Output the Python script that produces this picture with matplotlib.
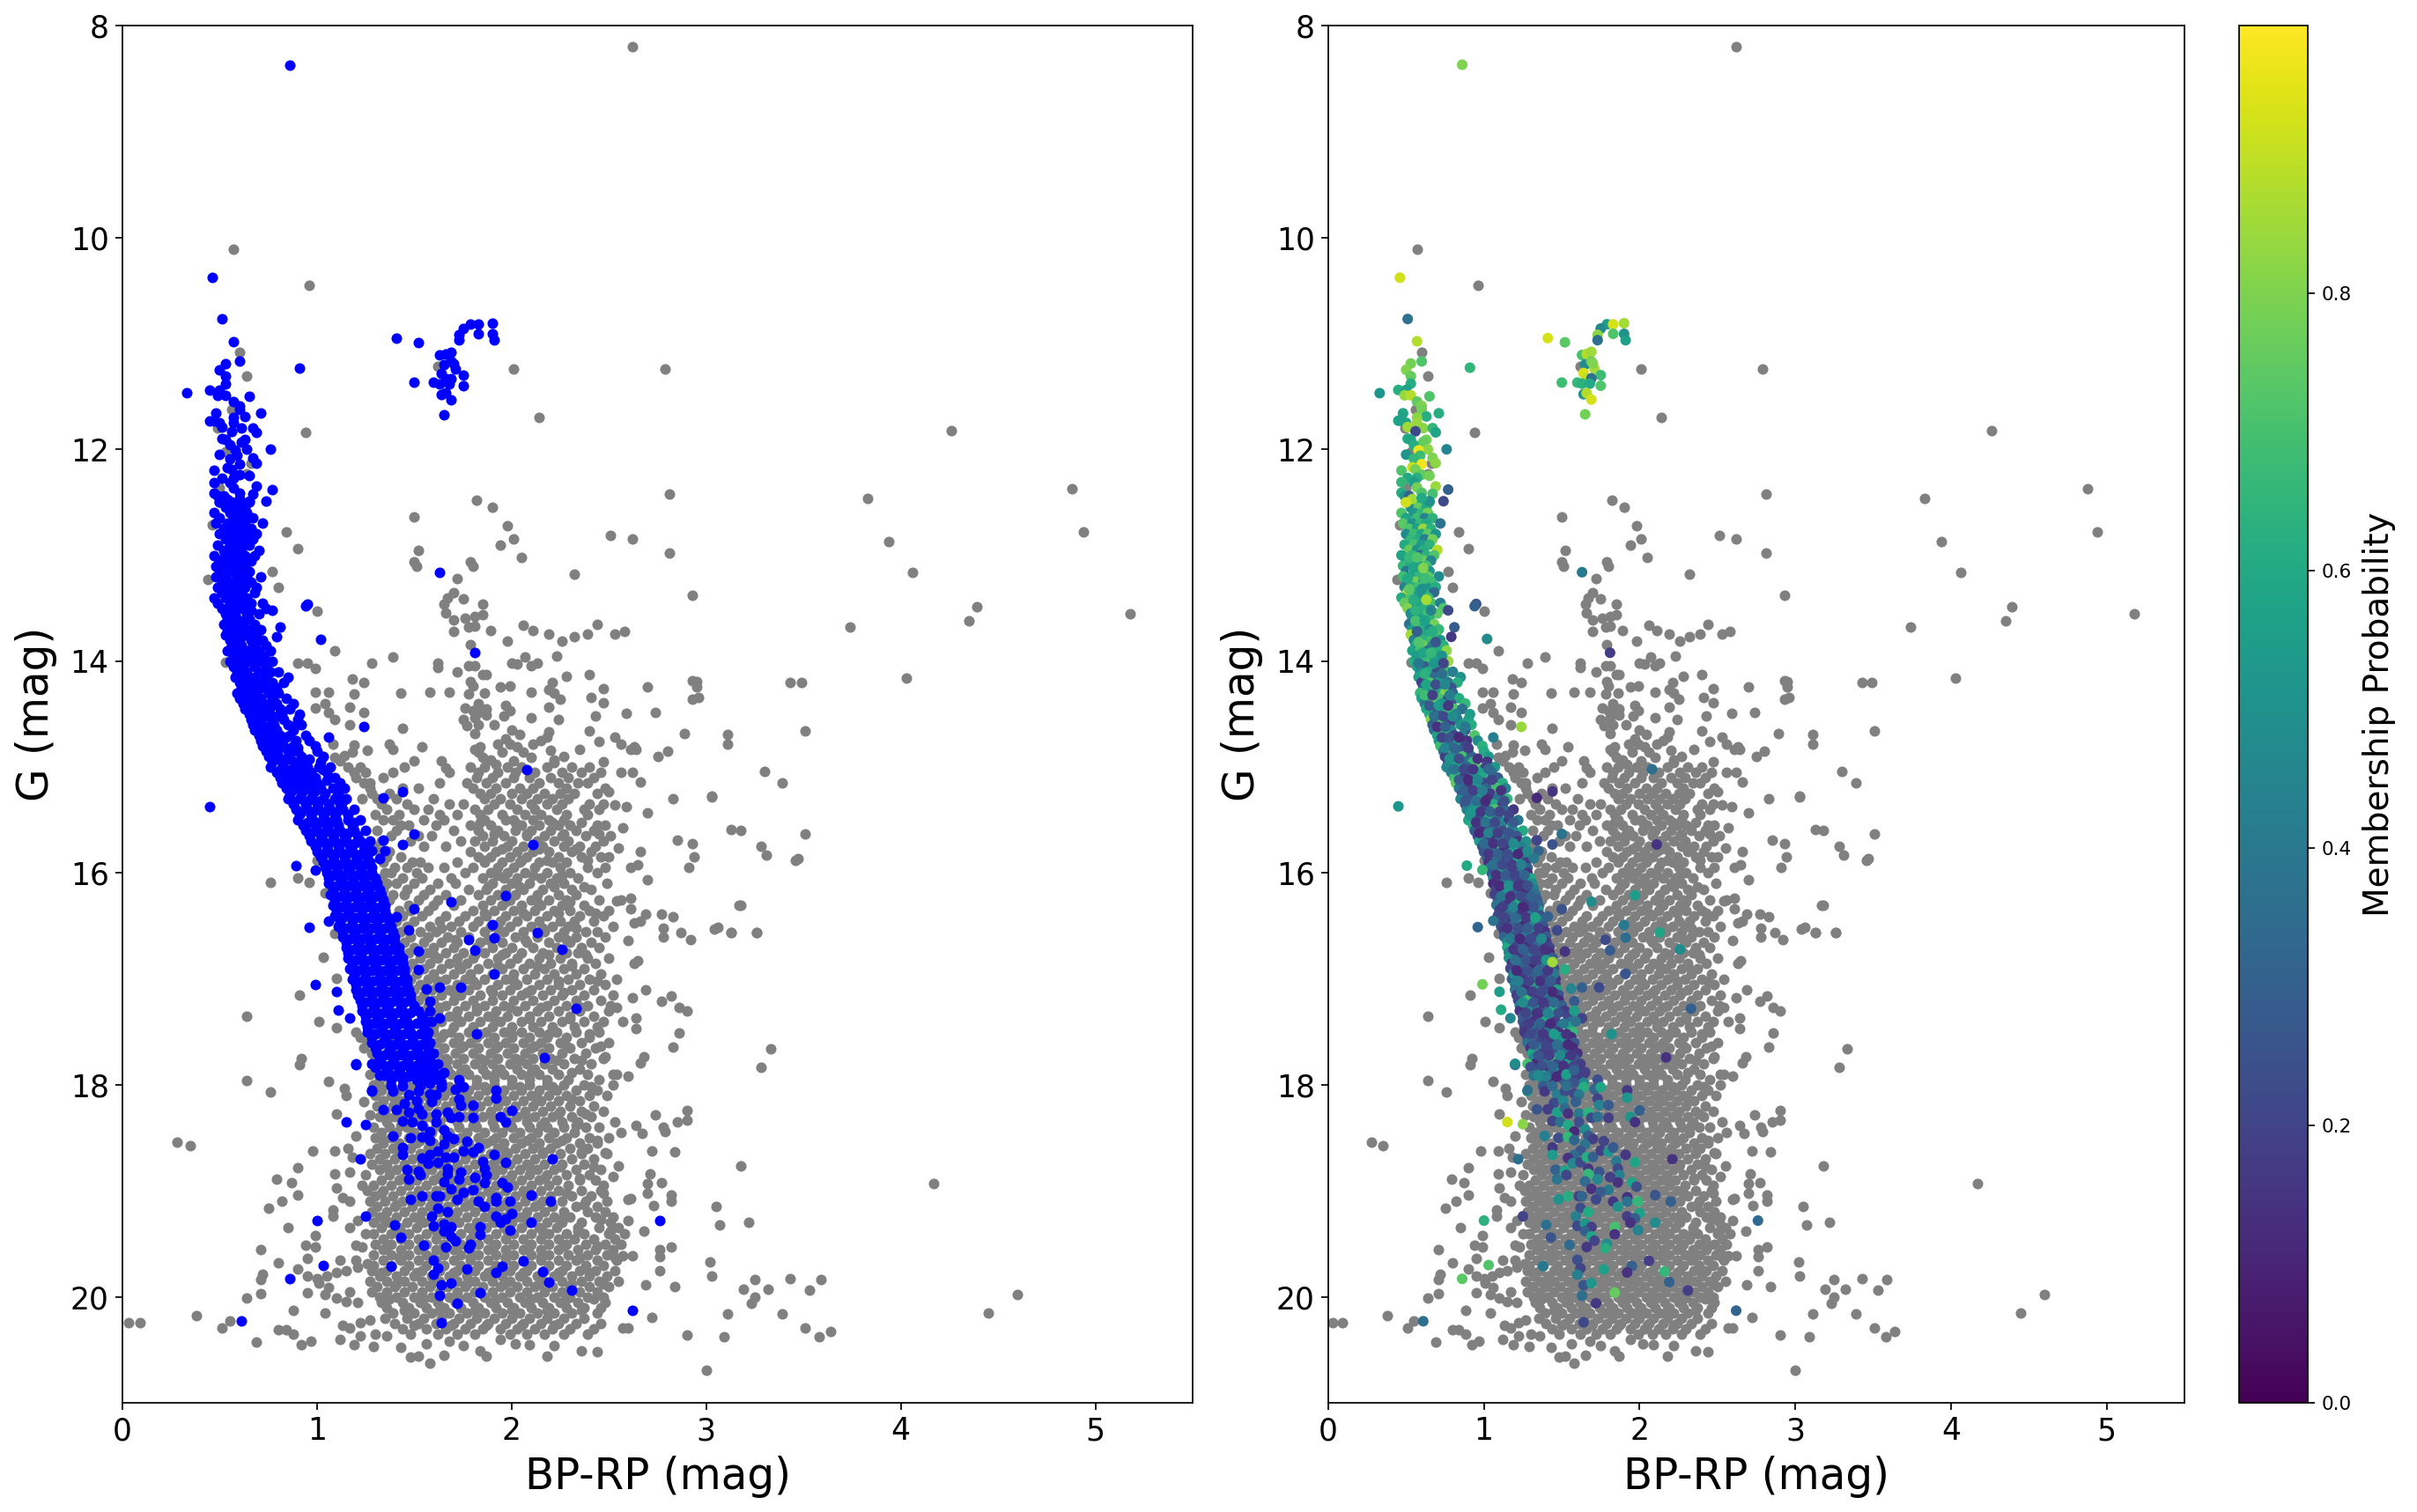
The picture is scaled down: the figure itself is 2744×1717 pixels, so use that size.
import matplotlib
matplotlib.use("Agg")
import matplotlib.pyplot as plt
from matplotlib.colors import Normalize
from matplotlib.cm import ScalarMappable
import numpy as np

# ---- field stars read individually: (BP-RP, G)
field_bright = [(2.62,8.2),(0.57,10.11),(0.96,10.45),(0.60,11.08),(0.64,11.31),(0.94,11.84),(2.01,11.24),(2.79,11.24),(2.14,11.70),(1.62,11.22),(0.56,11.62),(0.49,11.80),(0.53,12.02),(0.66,12.13),(0.64,12.23),(0.50,12.36),(2.81,12.42),(1.82,12.48),(1.90,12.55),(1.50,12.64),(1.98,12.72),(2.01,12.85),(1.94,12.90),(2.51,12.81),(2.62,12.85),(2.81,12.98),(1.52,12.95),(2.05,13.02),(0.84,12.78),(0.90,12.94),(1.50,13.06),(1.79,13.06),(0.46,12.71),
(4.26,11.82),(3.83,12.46),(4.88,12.37),(4.94,12.78),(3.94,12.87),(4.06,13.16),(3.74,13.68),(4.39,13.49),(4.35,13.62),(5.18,13.55),(4.03,14.16)]
field_upper = [(1.51,13.10),(1.80,13.10),(2.32,13.18),(1.72,13.22),(1.70,13.35),(2.93,13.38),(1.67,13.40),(1.65,13.46),(1.75,13.41),(1.85,13.46),(1.66,13.54),(1.70,13.61),(1.76,13.59),(1.81,13.58),(1.85,13.56),(1.70,13.72),(1.78,13.68),(1.81,13.67),(1.89,13.71),(2.06,13.66),(2.11,13.71),(2.19,13.74),(2.32,13.77),(2.39,13.74),(2.44,13.65),(2.53,13.74),(2.58,13.72),(2.26,13.81),(1.98,13.81),(1.79,13.84),(1.78,14.04),(1.81,14.04),(1.62,14.02),(1.62,14.06),(1.39,13.96),(1.28,14.02),(1.09,13.90),(2.07,13.96),(2.00,14.02),(2.03,14.03),(2.10,14.04),(2.13,14.02),(2.23,13.95),(1.72,14.10),(1.85,14.13),(1.87,14.13),(2.28,14.14),(2.40,14.13),(1.18,14.17),(1.24,14.20),(0.90,14.02),(0.95,14.02),(0.99,14.07),(1.79,14.19),(1.80,14.23),(1.94,14.24),(1.99,14.23),(2.21,14.20),(2.47,14.26),(2.70,14.24),(2.95,14.19),(2.95,14.24),(3.43,14.20),(3.49,14.20),(0.99,14.29),(1.06,14.29),(1.19,14.31),(1.43,14.30),(1.58,14.29),(1.68,14.29),(1.78,14.31),(1.86,14.30),(2.10,14.29),(2.19,14.27),(2.22,14.30),(2.41,14.34),(2.25,14.36),(2.47,14.39),(2.93,14.36),(2.96,14.34),(2.74,14.48),(2.59,14.49),(2.19,14.43),(2.43,14.52),(2.10,14.53),(2.24,14.55),(1.83,14.40),(1.76,14.44),(1.80,14.47),(1.83,14.48),(1.87,14.45),(1.87,14.51),(1.97,14.42),(1.99,14.47),(1.96,14.52),(1.75,14.55),(1.81,14.53),(1.77,14.61),(1.83,14.60),(1.91,14.60),(1.44,14.63),(1.24,14.48),(1.17,14.43),(0.99,14.44),(1.04,14.40),(1.06,14.48),(1.09,14.55),(1.17,14.60),(1.81,14.68),(2.00,14.65),(2.04,14.69),(2.19,14.67),(2.40,14.66),(2.89,14.68),(3.11,14.69),(3.51,14.66),(3.11,14.78),(2.53,14.72),(2.56,14.78),(2.45,14.76),(2.63,14.81),(2.61,14.83),(2.64,14.83),(2.18,14.72),(2.11,14.78),(2.15,14.75),(1.93,14.78),(1.97,14.73),(1.99,14.78),(2.03,14.81),(2.06,14.86),(2.20,14.84),(2.35,14.83),(2.80,14.85),(2.75,14.90),(2.27,14.90),(2.22,14.93),(2.47,14.95),(2.22,14.96),(1.54,14.81),(1.37,14.78),(1.39,14.83),(1.19,14.79),(1.08,14.78),(1.26,14.84),(1.18,14.86),(1.14,14.89),(1.09,14.91),(1.12,14.94),(1.50,14.94),(1.64,14.94),(1.66,15.01),(1.81,14.83),(1.84,14.81),(1.83,14.86),(1.85,14.91),(1.89,14.93),(1.92,14.97),(1.95,14.86),(2.01,14.94),(2.10,14.91),(0.44,13.23),(0.53,14.01),(0.80,13.30),(0.77,13.15),(1.00,13.53)]
field_right = [(2.56,15.05),(2.62,15.05),(2.66,15.14),(3.30,15.04),(3.39,15.15),(2.83,15.30),(3.03,15.27),(2.70,15.43),(2.59,15.37),(2.53,15.36),(2.50,15.23),(3.13,15.59),(3.18,15.60),(3.51,15.63),(2.85,15.69),(2.57,15.57),(3.28,15.75),(3.47,15.86),(2.94,15.85),(2.55,15.76),(2.66,15.80),(2.65,15.92),(2.61,15.95),(2.70,16.06),(3.18,16.30),(2.61,16.24),(2.54,16.26),(2.61,16.34),(2.77,16.39),(2.83,16.41),(3.06,16.51),(3.13,16.56),(3.26,16.56),(2.92,16.63),(2.87,16.56),(2.78,16.60),(2.78,16.52),(2.69,16.39),(2.63,16.47),(2.66,16.45),(2.60,16.64),(2.65,16.83),(2.63,16.85),(2.69,17.10),(2.77,17.21),(2.82,17.16),(2.86,17.27),(2.90,17.30),(2.86,17.51),(2.83,17.64),(3.33,17.66),(3.28,17.83),(2.64,17.47),(2.57,17.40),(2.54,17.27),(2.62,17.18),(2.64,17.37),(2.60,17.92),(2.54,17.90),(2.68,17.73),(2.66,17.79),(2.48,17.73),
(2.90,18.24),(2.90,18.33),(2.74,18.28),(2.85,18.35),(2.64,18.38),(2.78,18.40),(2.79,18.44),(2.67,18.46),(2.72,18.62),(2.84,18.63),(3.18,18.76),(2.56,18.45),(2.48,18.64),(2.55,18.76),(2.52,18.86),(2.71,18.84),(2.70,18.93),(2.77,18.92),(2.70,19.02),(2.82,19.04),(2.82,19.10),(2.61,19.07),(2.73,19.14),(3.05,19.15),(3.22,19.30),(3.07,19.32),(2.68,19.38),(2.82,19.53),(2.76,19.55),(2.76,19.62),(3.02,19.67),(2.76,19.75),(3.03,19.80),(2.69,19.89),(2.84,19.90),(3.19,19.93),(3.25,19.84),(3.32,19.93),(3.43,19.83),(3.59,19.84),(3.53,19.94),(3.25,20.00),(3.23,20.06),(3.11,20.16),(3.39,20.16),(3.51,20.29),(3.58,20.38),(3.64,20.33),(3.09,20.38),(2.90,20.36),(2.72,20.19),(2.57,20.29),(2.60,20.29),(2.57,19.61),(2.62,19.61),(2.60,19.28),(2.52,19.25),(2.60,19.08),(4.17,18.93),(4.45,20.15),(4.60,19.98),(3.00,20.69),(2.93,14.18),(2.91,15.95),(2.93,15.72),(3.03,15.28),(3.46,15.88),(3.31,15.83),(3.17,16.30),(3.04,16.53),(3.13,16.56),(3.26,16.56)]
field_left = [(0.76,16.09),(0.90,16.05),(0.96,16.09),(1.00,15.88),(1.04,16.19),(0.91,17.15),(0.64,17.35),(1.01,17.40),(1.10,17.46),(1.03,16.79),(1.09,16.57),(1.10,16.99),(0.64,17.96),(0.76,18.07),(0.92,17.75),(0.91,17.81),(1.06,17.97),(1.14,18.03),(1.15,18.10),(1.24,18.16),(1.10,18.27),(1.27,18.28),(1.20,18.48),(0.98,18.62),(1.09,18.62),(1.16,18.60),(1.18,18.68),(0.28,18.54),(0.35,18.57),(0.90,18.78),(1.09,18.84),(1.17,18.82),(0.79,18.89),(0.87,18.92),(0.90,19.04),(1.10,18.97),(1.23,18.95),(1.13,19.06),(1.17,19.10),(0.82,19.10),(0.75,19.16),(1.08,19.18),(1.08,19.24),(1.21,19.28),(0.85,19.35),(1.17,19.35),(0.99,19.42),(1.25,19.40),(0.94,19.51),(0.99,19.53),(1.20,19.51),(1.23,19.53),(0.71,19.55),(0.95,19.64),(1.12,19.65),(1.20,19.65),(0.80,19.68),(0.90,19.74),(0.72,19.79),(0.71,19.84),(0.95,19.80),(1.00,19.83),(1.05,19.80),(1.10,19.77),(1.15,19.75),(1.21,19.72),(1.26,19.69),(1.01,19.87),(1.06,19.91),(0.95,19.96),(0.71,19.97),(0.64,20.01),(1.04,19.98),(1.10,20.01),(1.15,20.04),(1.17,19.95),(1.21,20.05),(0.88,20.13),(1.04,20.15),(0.38,20.18),(0.03,20.24),(0.09,20.24),(0.55,20.23),(0.51,20.29),(0.80,20.31),(0.84,20.31),(0.88,20.35),(0.69,20.43),(0.92,20.45),(0.97,20.42),(1.13,20.27),(1.17,20.29),(1.22,20.24),(1.27,20.22),(1.12,20.40),(1.19,20.45),(1.22,20.37),(1.29,20.47),(1.30,20.35),(1.36,20.37),(1.43,20.48),(1.48,20.57),(1.52,20.56),(1.58,20.63),(1.65,20.55),(1.87,20.56),(1.84,20.51),(2.18,20.56),(2.36,20.51),(2.44,20.52),(2.22,20.46),(2.09,20.45),(2.02,20.44),(1.75,20.46),(1.68,20.42),(1.56,20.44),(1.94,20.40)]

# ---- field stars in the crowded part, by G row
crowd_g_upper = [15.00,15.05,15.10,15.15,15.20,15.25,15.30,15.35,15.40,15.45,15.50,15.55,15.60,15.65,15.70,15.75,15.80,15.85,15.90,15.95,16.00,16.05,16.10,16.15,16.20,16.25,16.30,16.35,16.40,16.45,16.50,16.55,16.60,16.65,16.70,16.75,16.80,16.85,16.90,16.95,17.00,17.05,17.10,17.15,17.20,17.25,17.30,17.35,17.40,17.45]
crowd_bprp_upper = [
[1.16,1.22,1.45,1.79,1.86,1.98,2.05,2.18,2.31,2.40],[1.19,1.25,1.39,1.68,1.83,1.93,2.02,2.12,2.26,2.36,2.46],[1.20,1.34,1.82,1.90,2.01,2.09,2.20,2.29,2.42],[1.24,1.27,1.63,1.77,1.87,1.97,2.14,2.24,2.34,2.39],[1.27,1.44,1.52,1.80,1.92,2.04,2.11,2.28,2.48],[1.28,1.37,1.84,1.89,2.00,2.08,2.17,2.25,2.32,2.44],[1.23,1.31,1.41,1.60,1.86,1.94,2.05,2.13,2.21,2.29],[1.33,1.46,1.68,1.75,1.91,1.99,2.10,2.18,2.26,2.40,2.47],[1.36,1.50,1.57,1.81,1.88,2.03,2.12,2.23,2.37,2.45],[1.30,1.42,1.63,1.72,1.84,1.95,2.07,2.15,2.28,2.39],
[1.34,1.39,1.55,1.65,1.86,1.97,2.01,2.11,2.19,2.27],[1.43,1.47,1.61,1.79,1.89,2.05,2.14,2.24,2.30,2.44,2.48],[1.31,1.41,1.70,1.83,1.93,2.02,2.10,2.20,2.33,2.42],[1.38,1.52,1.59,1.85,1.96,2.08,2.17,2.26,2.38,2.51],[1.33,1.48,1.74,1.81,1.90,2.00,2.13,2.22,2.29,2.47],[1.29,1.55,1.66,1.86,1.98,2.06,2.16,2.27,2.35,2.43],[1.32,1.37,1.79,1.92,2.03,2.11,2.19,2.31,2.41],[1.36,1.43,1.83,1.89,1.99,2.08,2.24,2.36,2.46,2.50],[1.34,1.49,1.53,1.72,1.86,1.95,2.04,2.14,2.21,2.28],[1.40,1.46,1.57,1.65,1.80,1.93,2.01,2.12,2.25,2.39,2.48],
[1.35,1.38,1.51,1.76,1.89,1.98,2.07,2.18,2.30,2.44],[1.33,1.44,1.54,1.69,1.85,1.96,2.03,2.15,2.23,2.34],[1.36,1.41,1.50,1.62,1.71,1.90,2.00,2.09,2.20,2.27,2.49],[1.34,1.46,1.58,1.78,1.87,1.97,2.06,2.16,2.31,2.41],[1.39,1.45,1.55,1.66,1.83,1.93,2.02,2.13,2.24,2.33],[1.37,1.52,1.62,1.74,1.89,1.99,2.10,2.19,2.28,2.45,2.56],[1.35,1.47,1.60,1.70,1.85,1.95,2.05,2.15,2.26,2.37],[1.42,1.48,1.57,1.80,1.91,2.01,2.12,2.22,2.30,2.40,2.50],[1.44,1.54,1.66,1.76,1.87,1.97,2.08,2.18,2.35,2.47],[1.41,1.50,1.63,1.73,1.83,1.94,2.03,2.14,2.25,2.32,2.42],
[1.46,1.58,1.69,1.80,1.89,1.99,2.10,2.21,2.29,2.52],[1.43,1.53,1.61,1.74,1.86,1.96,2.06,2.17,2.27,2.38,2.44],[1.48,1.57,1.67,1.78,1.92,2.02,2.13,2.24,2.33,2.48],[1.45,1.55,1.64,1.72,1.84,1.95,2.08,2.19,2.30,2.41],[1.50,1.60,1.70,1.82,1.90,2.00,2.11,2.23,2.36,2.45],[1.47,1.56,1.66,1.75,1.86,1.97,2.05,2.16,2.28,2.34],[1.53,1.62,1.72,1.80,1.93,2.03,2.14,2.25,2.39,2.50],[1.49,1.58,1.68,1.77,1.88,1.99,2.09,2.20,2.31,2.43],[1.46,1.55,1.64,1.74,1.83,1.95,2.06,2.17,2.27,2.37],[1.51,1.60,1.70,1.79,1.90,2.01,2.12,2.22,2.33,2.46],
[1.48,1.57,1.66,1.76,1.86,1.97,2.08,2.18,2.29,2.40,2.54],[1.53,1.62,1.72,1.82,1.93,2.03,2.14,2.24,2.35,2.48],[1.50,1.59,1.68,1.78,1.89,1.99,2.10,2.20,2.31,2.42],[1.55,1.64,1.74,1.84,1.95,2.05,2.16,2.26,2.37,2.52],[1.52,1.60,1.70,1.80,1.90,2.01,2.11,2.22,2.33,2.46],[1.57,1.66,1.76,1.86,1.96,2.07,2.18,2.28,2.39,2.51],[1.54,1.62,1.72,1.82,1.92,2.03,2.13,2.24,2.35,2.50],[1.59,1.68,1.78,1.88,1.98,2.09,2.19,2.30,2.42],[1.56,1.64,1.74,1.84,1.94,2.05,2.15,2.26,2.37,2.47],[1.60,1.70,1.80,1.90,2.00,2.11,2.21,2.32,2.44]]

crowd_g_core = [17.50,17.55,17.60,17.65,17.70,17.75,17.80,17.85,17.90,17.95,18.00,18.05,18.10,18.15,18.20,18.25,18.30,18.35,18.40,18.45,18.50,18.55,18.60,18.65,18.70,18.75,18.80,18.85,18.90,18.95,19.00,19.05,19.10,19.15,19.20,19.25,19.30,19.35,19.40,19.45,19.50,19.55,19.60,19.65,19.70,19.75,19.80,19.85,19.90,19.95,20.00,20.05,20.10,20.15,20.20,20.25,20.30,20.35]
crowd_bprp_core = [
[1.20,1.30,1.60,1.69,1.78,1.87,1.96,2.05,2.14,2.23,2.33,2.45],[1.22,1.34,1.64,1.73,1.82,1.91,2.00,2.09,2.18,2.28,2.40],[1.26,1.38,1.61,1.70,1.79,1.88,1.97,2.06,2.15,2.25,2.36,2.50],[1.24,1.42,1.65,1.74,1.83,1.92,2.01,2.10,2.19,2.30,2.43],[1.28,1.36,1.62,1.71,1.80,1.89,1.98,2.07,2.16,2.26,2.38],[1.30,1.46,1.66,1.75,1.84,1.93,2.02,2.11,2.20,2.32,2.47],[1.33,1.52,1.63,1.72,1.81,1.90,1.99,2.08,2.17,2.27,2.41],[1.35,1.48,1.67,1.76,1.85,1.94,2.03,2.12,2.21,2.35],[1.27,1.40,1.60,1.69,1.78,1.87,1.96,2.05,2.14,2.24,2.39,2.52],[1.32,1.44,1.64,1.73,1.82,1.91,2.00,2.09,2.18,2.29,2.45],
[1.29,1.37,1.46,1.55,1.64,1.73,1.82,1.91,2.00,2.09,2.18,2.27,2.37,2.52],[1.33,1.42,1.51,1.60,1.69,1.78,1.87,1.96,2.05,2.14,2.23,2.33,2.44],[1.30,1.38,1.47,1.56,1.65,1.74,1.83,1.92,2.01,2.10,2.19,2.28,2.40,2.49],[1.34,1.43,1.52,1.61,1.70,1.79,1.88,1.97,2.06,2.15,2.24,2.35],[1.31,1.39,1.48,1.57,1.66,1.75,1.84,1.93,2.02,2.11,2.20,2.30,2.42],[1.35,1.44,1.53,1.62,1.71,1.80,1.89,1.98,2.07,2.16,2.25,2.36,2.47],[1.32,1.40,1.49,1.58,1.67,1.76,1.85,1.94,2.03,2.12,2.21,2.31,2.41],[1.36,1.45,1.54,1.63,1.72,1.81,1.90,1.99,2.08,2.17,2.26,2.34,2.53],[1.29,1.37,1.46,1.55,1.64,1.73,1.82,1.91,2.00,2.09,2.18,2.27,2.38,2.45],[1.33,1.41,1.50,1.59,1.68,1.77,1.86,1.95,2.04,2.13,2.22,2.32],
[1.30,1.38,1.47,1.56,1.65,1.74,1.83,1.92,2.01,2.10,2.19,2.28,2.40,2.50],[1.34,1.42,1.51,1.60,1.69,1.78,1.87,1.96,2.05,2.14,2.23,2.35,2.44],[1.31,1.39,1.48,1.57,1.66,1.75,1.84,1.93,2.02,2.11,2.20,2.30,2.39],[1.27,1.35,1.44,1.53,1.62,1.71,1.80,1.89,1.98,2.07,2.16,2.25,2.36,2.49],[1.32,1.40,1.49,1.58,1.67,1.76,1.85,1.94,2.03,2.12,2.21,2.31,2.42],[1.28,1.36,1.45,1.54,1.63,1.72,1.81,1.90,1.99,2.08,2.17,2.26,2.37],[1.32,1.41,1.50,1.59,1.68,1.77,1.86,1.95,2.04,2.13,2.22,2.33,2.46],[1.25,1.37,1.46,1.55,1.64,1.73,1.82,1.91,2.00,2.09,2.18,2.28,2.40],[1.33,1.42,1.51,1.60,1.69,1.78,1.87,1.96,2.05,2.14,2.23,2.35,2.43],[1.29,1.38,1.47,1.56,1.65,1.74,1.83,1.92,2.01,2.10,2.19,2.29,2.47],
[1.26,1.34,1.43,1.52,1.61,1.70,1.79,1.88,1.97,2.06,2.15,2.24,2.36,2.46],[1.30,1.39,1.48,1.57,1.66,1.75,1.84,1.93,2.02,2.11,2.20,2.31,2.41],[1.27,1.35,1.44,1.53,1.62,1.71,1.80,1.89,1.98,2.07,2.16,2.26,2.38,2.49],[1.31,1.40,1.49,1.58,1.67,1.76,1.85,1.94,2.03,2.12,2.21,2.33,2.44],[1.28,1.36,1.45,1.54,1.63,1.72,1.81,1.90,1.99,2.08,2.17,2.27,2.39,2.48],[1.32,1.41,1.50,1.59,1.68,1.77,1.86,1.95,2.04,2.13,2.22,2.30,2.43],[1.29,1.37,1.46,1.55,1.64,1.73,1.82,1.91,2.00,2.09,2.18,2.26,2.36,2.51],[1.33,1.42,1.51,1.60,1.69,1.78,1.87,1.96,2.05,2.14,2.23,2.34,2.45,2.55],[1.29,1.38,1.47,1.56,1.65,1.74,1.83,1.92,2.01,2.10,2.19,2.28,2.37,2.50,2.58],[1.34,1.43,1.52,1.61,1.70,1.79,1.88,1.97,2.06,2.15,2.24,2.32,2.42,2.53],
[1.30,1.38,1.47,1.56,1.65,1.74,1.83,1.92,2.01,2.10,2.19,2.28,2.38,2.48,2.56],[1.34,1.43,1.52,1.61,1.70,1.79,1.88,1.97,2.06,2.15,2.24,2.34,2.43,2.52],[1.29,1.38,1.47,1.56,1.65,1.74,1.83,1.92,2.01,2.10,2.19,2.29,2.39,2.49],[1.34,1.43,1.52,1.61,1.70,1.79,1.88,1.97,2.06,2.15,2.24,2.33,2.44,2.54],[1.29,1.38,1.47,1.56,1.65,1.74,1.83,1.92,2.01,2.10,2.19,2.28,2.38,2.47],[1.28,1.36,1.45,1.54,1.63,1.72,1.81,1.90,1.99,2.08,2.17,2.26,2.35,2.43,2.53],[1.32,1.41,1.50,1.59,1.68,1.77,1.86,1.95,2.04,2.13,2.22,2.31,2.40,2.49],[1.27,1.36,1.45,1.54,1.63,1.72,1.81,1.90,1.99,2.08,2.17,2.26,2.36,2.45,2.55],[1.31,1.40,1.49,1.58,1.67,1.76,1.85,1.94,2.03,2.12,2.21,2.30,2.40,2.50],[1.28,1.36,1.45,1.54,1.63,1.72,1.81,1.90,1.99,2.08,2.17,2.26,2.35,2.44],
[1.32,1.41,1.50,1.59,1.68,1.77,1.86,1.95,2.04,2.13,2.22,2.30,2.39,2.47],[1.33,1.44,1.53,1.62,1.71,1.80,1.89,1.98,2.07,2.16,2.25,2.34,2.48],[1.36,1.47,1.56,1.65,1.74,1.83,1.92,2.01,2.10,2.19,2.28,2.37,2.46],[1.39,1.50,1.59,1.68,1.77,1.86,1.95,2.04,2.13,2.22,2.31,2.44],[1.35,1.46,1.55,1.64,1.73,1.82,1.91,2.00,2.09,2.18,2.27,2.37],[1.40,1.52,1.61,1.70,1.79,1.88,1.97,2.06,2.15,2.24,2.33,2.46],[1.44,1.56,1.66,1.76,1.85,1.94,2.03,2.12,2.21,2.30,2.42],[1.48,1.62,1.72,1.81,1.99,2.08,2.17,2.27,2.39]]

# further field stars in between, breaking up the crowded part
crowd_g_fill = [15.52,15.63,15.77,15.88,16.02,16.13,16.27,16.38,16.52,16.63,16.77,16.88,17.02,17.13,17.27,17.38,17.52,17.63,17.77,17.88,18.02,18.13,18.27,18.38,18.52,18.63,18.77,18.88,19.02,19.13,19.27,19.38,19.52,19.63,19.77,19.88,20.02,20.13,20.27]
crowd_bprp_fill = [[1.84,2.02,2.21,2.36],[1.91,2.08,2.27,2.45],[1.95,2.14,2.33],[1.86,2.05,2.18,2.39],[1.93,2.11,2.26],[1.88,2.04,2.22,2.37],[1.97,2.13,2.30],[1.86,2.06,2.24,2.43],[1.64,1.93,2.16,2.33],[1.71,1.88,2.07,2.28],[1.60,1.81,1.95,2.19,2.38],[1.73,1.93,2.13,2.31],[1.62,1.80,2.01,2.24,2.44],[1.70,1.90,2.08,2.27],[1.63,1.82,1.99,2.15,2.36],[1.72,1.91,2.09,2.30],[1.65,1.84,2.00,2.19,2.40],[1.75,1.93,2.12,2.28,2.46],[1.67,1.86,2.04,2.23,2.36],[1.74,1.92,2.10,2.31],[1.32,1.50,1.68,1.86,2.04,2.21,2.41],[1.40,1.58,1.77,1.95,2.13,2.31],[1.35,1.52,1.70,1.89,2.07,2.24,2.38],[1.43,1.61,1.80,1.98,2.15,2.33],[1.34,1.53,1.71,1.90,2.08,2.26,2.44],[1.42,1.60,1.79,1.97,2.16,2.36],[1.36,1.54,1.72,1.91,2.09,2.25,2.42],[1.44,1.62,1.81,1.99,2.17,2.35],[1.33,1.52,1.70,1.89,2.07,2.28,2.47],[1.41,1.59,1.78,1.96,2.14,2.37],[1.35,1.53,1.71,1.90,2.08,2.25,2.46],[1.43,1.61,1.80,1.98,2.16,2.34,2.51],[1.36,1.54,1.72,1.91,2.09,2.27,2.44],[1.42,1.60,1.79,1.97,2.15,2.35,2.53],[1.33,1.51,1.70,1.88,2.06,2.24,2.40],[1.41,1.59,1.77,1.96,2.14,2.31,2.47],[1.37,1.55,1.73,1.92,2.10,2.28,2.42],[1.45,1.63,1.81,2.00,2.18,2.36],[1.50,1.69,1.87,2.05,2.22]]

# ---- cluster members read individually: (BP-RP, G, probability in %)
member_bright = [(0.86,8.37,80),(0.46,10.38,92),(0.51,10.77,38),(0.57,10.98,88),(0.60,11.17,72),(0.91,11.23,65),(0.53,11.19,78),(0.50,11.25,80),(0.53,11.31,76),(0.53,11.38,62),(0.33,11.47,52),(0.45,11.44,62),(0.50,11.44,56),(0.49,11.49,84),(0.53,11.49,88),(0.65,11.50,72),(0.57,11.55,75),(0.60,11.59,80),(0.60,11.62,78),(0.48,11.66,58),(0.71,11.66,62),(0.63,11.69,62),(0.45,11.73,58),(0.47,11.73,56),(0.57,11.70,82),(0.50,11.75,58),(0.57,11.75,84),(0.51,11.79,85),(0.61,11.80,82),(0.67,11.80,66),(0.69,11.84,58),(0.56,11.83,22),(0.51,11.90,60),(0.63,11.91,78),(0.61,11.93,76),(0.53,11.91,58),(0.55,11.96,62),(0.64,12.00,82),(0.76,12.00,45),(0.58,12.01,96),(0.50,12.05,52),(0.59,12.06,68),(0.67,12.08,80),(0.55,12.09,66),(0.69,12.13,82),(0.60,12.14,97),(0.54,12.17,90),(0.56,12.19,78),(0.47,12.20,72),(0.60,12.24,75),(0.65,12.25,78),(0.57,12.27,62),(0.51,12.27,60),(0.55,12.31,55),(0.47,12.31,66),(0.69,12.35,84),(0.77,12.38,30),(0.57,12.36,78),(0.47,12.41,62),(0.60,12.41,72),(0.49,12.44,52),(0.52,12.44,30),(0.67,12.42,70),(0.54,12.47,85),(0.65,12.49,50),(0.74,12.49,22),(0.50,12.50,92),(0.60,12.46,60)]
member_clump = [(1.41,10.95,93),(1.52,10.99,74),(1.79,10.82,55),(1.75,10.86,46),(1.83,10.82,93),(1.90,10.81,86),(1.73,10.92,82),(1.73,10.97,36),(1.83,10.91,72),(1.90,10.91,50),(1.91,10.97,56),(1.63,11.11,70),(1.66,11.10,88),(1.69,11.08,85),(1.65,11.20,48),(1.69,11.17,78),(1.71,11.24,86),(1.70,11.19,80),(1.64,11.28,93),(1.75,11.30,68),(1.66,11.33,90),(1.69,11.33,36),(1.50,11.37,68),(1.60,11.37,66),(1.63,11.38,64),(1.68,11.38,60),(1.75,11.40,72),(1.64,11.48,50),(1.66,11.47,88),(1.69,11.53,93),(1.65,11.67,78)]
member_strays = [(1.63,13.16,40),(1.81,13.92,18),(1.02,13.79,48),(0.95,13.46,26),(0.94,13.48,30),(0.77,13.52,22),(0.81,13.68,28),(0.79,13.77,16),(1.24,14.62,84),(1.06,14.72,42),(2.08,15.02,36),(1.44,15.23,15),(1.34,15.29,12),(0.45,15.37,52),(1.50,15.63,38),(1.44,15.73,25),(1.34,15.69,20),(2.11,15.73,15),(1.28,15.79,48),(1.35,15.79,32),(1.32,15.86,40),(0.89,15.93,60),(0.99,15.97,66),(1.97,16.21,55),(1.69,16.27,48),(1.50,16.34,25),(1.41,16.41,30),(1.90,16.49,40),(2.13,16.56,58),(1.47,16.54,22),(0.96,16.51,32),(1.06,16.45,38),(1.78,16.63,22),(1.91,16.61,35),(1.81,16.73,28),(2.26,16.72,48),(1.52,16.74,15),(1.52,16.91,62),(1.44,16.84,85),(1.91,16.95,26),(1.63,17.08,30),(1.74,17.08,22),(1.56,17.09,45),(0.99,17.05,78),(1.10,17.12,55),(2.33,17.28,30),(1.11,17.29,60),(1.17,17.37,46),(1.58,17.21,28),(1.58,17.30,55),(1.63,17.37,20),(1.59,17.40,38),(1.82,17.52,50),(2.17,17.74,14),(1.20,17.80,48),(1.28,18.05,36)]
member_faint = [(1.20,17.81,30),(1.28,17.80,70),(1.30,17.83,24),(1.32,17.91,38),(1.35,17.91,48),(1.28,18.06,62),(1.38,18.01,28),(1.39,18.06,16),(1.44,18.01,34),(1.47,18.09,42),(1.52,18.06,22),(1.53,17.90,55),(1.58,17.86,30),(1.65,17.88,18),(1.64,17.98,45),(1.58,17.98,26),(1.53,18.01,36),(1.64,18.02,62),(1.58,18.08,20),(1.61,18.09,40),(1.73,17.95,24),(1.71,18.04,32),(1.75,18.02,58),(1.73,18.13,20),(1.74,18.19,44),(1.80,18.19,28),(1.92,18.05,16),(1.92,18.12,52),(1.59,18.16,30),(1.45,18.17,22),(1.51,18.15,46),(1.41,18.23,18),(1.47,18.26,56),(1.52,18.22,34),(1.34,18.23,26),(1.54,18.27,14),(1.61,18.27,40),(1.67,18.26,64),(1.69,18.31,22),(1.73,18.30,36),(1.80,18.31,18),(2.00,18.24,30),(1.94,18.30,50),(1.97,18.35,14),(1.15,18.35,92),(1.25,18.37,82),(1.44,18.34,20),(1.49,18.35,36),(1.54,18.38,60),(1.61,18.35,24),(1.58,18.44,12),(1.65,18.42,48),(1.67,18.48,28),(1.70,18.51,18),(1.39,18.48,42),(1.48,18.50,24),(1.54,18.49,66),(1.58,18.52,32),(1.77,18.53,20),(1.65,18.56,38),(1.44,18.59,16),(1.44,18.66,54),(1.62,18.62,26),(1.58,18.66,34),(1.54,18.69,14),(1.57,18.74,46),(1.62,18.73,22),(1.66,18.68,62),(1.70,18.68,30),(1.75,18.62,18),(1.80,18.63,52),(1.83,18.59,28),(1.91,18.66,16),(1.85,18.72,40),(1.97,18.73,58),(2.21,18.70,14),(1.22,18.70,36),(1.86,18.79,22),(1.87,18.85,44),(1.86,18.92,14),(1.46,18.80,30),(1.52,18.81,58),(1.53,18.85,20),(1.47,18.89,38),(1.67,18.79,16),(1.67,18.84,66),(1.74,18.82,26),(1.73,18.89,46),(1.81,18.87,18),(1.65,18.91,34),(1.95,18.92,58),(1.98,18.96,24),(1.69,18.98,14),(1.80,18.99,40),(1.75,19.01,28),(1.54,19.05,62),(1.61,19.05,18),(1.63,19.05,32),(1.48,19.08,50),(1.72,19.08,22),(1.92,19.06,14),(1.92,19.10,38),(1.99,19.10,66),(2.10,19.04,26),(2.20,19.10,30),(1.83,19.10,16),(1.86,19.15,50),(1.62,19.16,24),(1.67,19.20,60),(1.25,19.24,20),(1.59,19.24,42),(1.92,19.24,18),(2.00,19.21,56),(1.97,19.26,28),(1.94,19.30,14),(1.00,19.28,64),(2.10,19.30,48),(1.40,19.32,36),(1.60,19.33,22),(1.65,19.31,52),(1.69,19.34,18),(1.84,19.34,70),(1.65,19.38,30),(1.84,19.41,14),(1.99,19.37,44),(1.43,19.44,26),(1.69,19.43,58),(1.71,19.47,20),(1.55,19.51,34),(1.66,19.53,16),(1.79,19.50,48),(1.78,19.54,62),(2.76,19.28,34),(1.60,19.65,24),(2.06,19.66,18),(1.03,19.70,72),(1.38,19.71,40),(1.62,19.73,20),(1.77,19.74,56),(1.95,19.71,30),(2.16,19.76,66),(1.92,19.77,14),(1.60,19.79,42),(0.86,19.83,74),(1.64,19.89,26),(1.69,19.87,52),(2.19,19.86,30),(2.31,19.94,18),(1.84,19.96,76),(1.63,19.99,36),(1.72,20.06,16),(2.62,20.13,32),(0.61,20.23,36),(1.64,20.24,22)]

# ---- cluster main sequence, by G row
band_a_g = [12.50,12.55,12.60,12.65,12.70,12.75,12.80,12.85,12.90,12.95,13.00,13.05,13.10,13.15,13.20,13.25,13.30,13.35,13.40,13.45,13.50,13.55,13.60,13.65,13.70,13.75,13.80,13.85,13.90,13.95]
band_a_bprp = [[.50,.56,.61,.65],[.53,.58,.63],[.47,.55,.60,.64],[.50,.57,.62,.67],[.48,.54,.59,.63,.72],[.52,.57,.61,.66],[.50,.55,.60,.64,.69],[.53,.58,.62,.67],[.49,.55,.60,.65],[.52,.57,.61,.70],[.47,.54,.59,.63,.68],[.50,.56,.61,.66],[.48,.53,.58,.63],[.50,.55,.60,.65],[.48,.53,.59,.64,.71],[.51,.56,.61,.66],[.49,.54,.58,.63,.69],[.51,.56,.61,.68],[.47,.53,.58,.64],[.49,.55,.60,.66,.72],[.51,.57,.62,.74],[.53,.58,.64,.70],[.54,.59,.65],[.52,.57,.62,.68],[.54,.60,.65,.71],[.53,.58,.63,.69],[.55,.60,.66,.72],[.56,.61,.67,.74],[.54,.59,.64,.70,.76],[.57,.62,.68,.73]]
band_a_pct = [70,62,55,70,48,76,60,72,52,66,78,58,68,44,64,74,50,66,60,38,72,56,84,64,48,68,58,74,52,66,62,42,78,60,70,54,64,76,50,62,88,58,66,36,64,72,54,60,76,46,66,62,56,70,40,82,64,52,68,58,66,74,48,60,78,56,68,44,64,70,52,62,90,58,66,34,62,72,50,66,76,54,60,70,42,80,56,64,72,48,62,68,74,50,58,64,38,70,60,78,54,62,46,66,86,56,60,72,44,64,68,52,58,76,48,64,58,70,36,62,82,54,66,60,50,72,56,64]
band_b_g = [14.00,14.05,14.10,14.15,14.20,14.25,14.30,14.35,14.40,14.45,14.50,14.55,14.60,14.65,14.70,14.75,14.80,14.85,14.90,14.95,15.00,15.05,15.10,15.15,15.20,15.25,15.30,15.35,15.40,15.45]
band_b_bprp = [[.55,.60,.65,.71,.77],[.57,.62,.68,.74],[.59,.64,.70,.76,.80],[.58,.63,.68,.74,.85],[.60,.65,.71,.77,.83],[.61,.66,.72,.79],[.59,.64,.69,.75,.80],[.60,.65,.71,.77,.84],[.62,.67,.73,.79,.88],[.63,.68,.74,.81,.86],[.65,.70,.76,.82,.91],[.66,.71,.77,.83,.90],[.67,.72,.78,.85,.92],[.68,.74,.79,.88],[.70,.75,.81,.86,.94],[.71,.76,.82,.89,.96],[.72,.78,.83,.88,.99],[.74,.79,.85,.90,1.00],[.75,.80,.86,.92,1.03],[.77,.82,.88,.93,1.02],[.76,.83,.89,.95,1.01,1.07],[.79,.85,.91,.97,1.05],[.81,.87,.93,.99,1.09],[.82,.88,.94,1.00,1.12],[.84,.90,.96,1.02,1.08,1.14],[.86,.92,.98,1.04,1.11],[.85,.91,.97,1.03,1.09,1.15],[.88,.94,1.00,1.06,1.12],[.89,.95,1.01,1.07,1.13,1.19],[.91,.97,1.03,1.09,1.16]]
band_b_pct = [62,36,70,52,84,58,28,66,74,48,60,22,68,42,56,78,34,64,50,18,72,58,40,62,30,76,54,24,66,46,60,80,32,56,44,70,20,62,38,74,52,28,66,58,16,48,72,36,60,26,68,44,54,82,22,64,40,56,30,70,18,50,62,34,76,46,24,58,66,20,42,72,52,30,60,14,48,68,36,56,22,64,40,74,28,50,60,18,44,70,32,54,24,62,38,66,16,46,58,30,72,20,52,42,64,26,56,36,68,14,48,60,28,76,34,50,22,62,40,16,54,32,70,44,24,58,36,18,64,46,28,52,14,38,66,22,48,30,60,18,42,56,24,72,34,16,50,26,62,38,20,46,58,14,32,54]
band_c_g = [15.50,15.55,15.60,15.65,15.70,15.75,15.80,15.85,15.90,15.95,16.00,16.05,16.10,16.15,16.20,16.25,16.30,16.35,16.40,16.45,16.50,16.55,16.60,16.65,16.70,16.75,16.80,16.85,16.90,16.95]
band_c_bprp = [[.90,.98,1.04,1.10,1.16,1.22],[.93,.99,1.05,1.11,1.18],[.94,1.00,1.06,1.12,1.19,1.25],[.96,1.02,1.08,1.14,1.21],[.97,1.03,1.09,1.15,1.22,1.27],[.99,1.05,1.11,1.17,1.24],[1.00,1.06,1.12,1.18,1.25],[1.02,1.08,1.14,1.20,1.26],[1.03,1.09,1.15,1.21,1.27],[1.04,1.10,1.16,1.22,1.28],[1.05,1.11,1.17,1.23,1.28],[1.06,1.12,1.18,1.24,1.30],[1.06,1.13,1.19,1.25,1.31],[1.08,1.14,1.20,1.26,1.32],[1.07,1.14,1.20,1.27,1.33],[1.09,1.15,1.21,1.27,1.34],[1.08,1.15,1.22,1.28,1.35],[1.10,1.16,1.23,1.29,1.35],[1.09,1.17,1.23,1.30,1.36],[1.12,1.18,1.24,1.31,1.37],[1.11,1.18,1.25,1.31,1.38],[1.13,1.19,1.26,1.32,1.39],[1.13,1.20,1.26,1.33,1.40],[1.15,1.21,1.27,1.34,1.40],[1.15,1.22,1.28,1.35,1.42],[1.16,1.22,1.29,1.36,1.42],[1.16,1.23,1.30,1.36,1.44],[1.18,1.24,1.30,1.37,1.44],[1.17,1.24,1.31,1.38,1.45],[1.19,1.25,1.32,1.38,1.45]]
band_c_pct = [58,34,22,48,16,40,62,28,18,44,52,30,14,36,24,46,60,20,32,12,42,26,54,18,38,28,14,50,22,34,66,16,44,26,36,12,56,20,30,42,18,24,48,14,34,28,60,16,38,22,46,12,30,26,52,18,36,14,44,24,32,20,58,12,40,28,16,48,22,34,26,14,42,18,54,30,12,36,24,20,46,16,28,38,14,62,22,32,18,44,26,12,50,20,34,16,40,24,28,14,56,18,36,22,30,12,46,26,16,42,20,52,14,32,24,38,18,28,48,12,22,36,16,60,26,14,34,20,44,18,30,24,12,50,16,38,22,28,14,42,26,18,56,20,32,12,36,24,46,16,30,22,40,14,28,18]
band_d_g = [17.00,17.05,17.10,17.15,17.20,17.25,17.30,17.35,17.40,17.45,17.50,17.55,17.60,17.65,17.70,17.75,17.80,17.85,17.90,17.95]
band_d_bprp = [[1.18,1.25,1.32,1.39,1.46],[1.20,1.26,1.33,1.40,1.46],[1.20,1.27,1.34,1.41,1.47],[1.21,1.28,1.34,1.41,1.48],[1.22,1.28,1.35,1.42,1.48],[1.23,1.29,1.36,1.43,1.50],[1.23,1.30,1.37,1.44,1.52],[1.25,1.31,1.38,1.45,1.54],[1.25,1.32,1.39,1.46,1.56],[1.26,1.33,1.40,1.47,1.55],[1.26,1.34,1.41,1.48,1.57],[1.28,1.35,1.42,1.49,1.56],[1.28,1.36,1.43,1.50,1.58],[1.30,1.37,1.44,1.51,1.57],[1.31,1.38,1.45,1.52,1.60],[1.32,1.39,1.46,1.53,1.58],[1.33,1.40,1.47,1.54,1.62],[1.36,1.42,1.48,1.55,1.60],[1.37,1.43,1.50,1.56,1.64],[1.38,1.44,1.51,1.57,1.62]]
band_d_pct = [30,18,52,24,14,42,20,64,28,16,36,12,48,22,58,18,32,14,44,26,20,68,16,34,12,40,24,54,18,30,14,46,22,62,16,28,38,12,50,20,26,14,60,18,34,22,44,12,30,56,16,24,40,14,66,20,28,18,48,12,36,22,16,52,26,14,42,20,30,12,58,18,24,38,14,46,22,70,16,28,12,34,20,54,18,26,14,44,24,16,62,30,12,36,20,48,14,28,18,40]

# further main-sequence members between the rows above
band_e_g = [13.02,13.12,13.22,13.32,13.42,13.52,13.62,13.72,13.82,13.92,14.02,14.12,14.22,14.32,14.42,14.52,14.62,14.72,14.82,14.92,15.02,15.12,15.22,15.32,15.42,15.52,15.62,15.72,15.82,15.92,16.02,16.12,16.22,16.32,16.42,16.52,16.62,16.72,16.82,16.92,17.02,17.12,17.22,17.32,17.42,17.52,17.62,17.72,17.82,17.92]
band_e_bprp = [[.52,.57],[.55,.61],[.51,.62],[.52,.60],[.55,.63],[.56,.66],[.56,.62],[.57,.67],[.58,.69],[.61,.66],[.58,.68,.74],[.62,.73],[.63,.69,.75],[.62,.67,.78],[.65,.71,.77],[.68,.74,.80],[.70,.75,.88],[.73,.78,.84],[.75,.81,.90],[.78,.84,.96],[.81,.87,.93,1.03],[.84,.90,.96,1.05],[.87,.93,.99,1.11],[.88,.95,1.01,1.13],[.92,.98,1.04,1.10],[.95,1.01,1.07,1.19],[.97,1.03,1.09,1.16],[1.00,1.06,1.12,1.19],[1.03,1.09,1.15,1.22],[1.06,1.12,1.18,1.24],[1.08,1.14,1.20,1.26],[1.10,1.16,1.22,1.28],[1.11,1.17,1.24,1.30],[1.12,1.19,1.25,1.32],[1.13,1.20,1.27,1.33],[1.15,1.22,1.28,1.35],[1.17,1.23,1.30,1.37],[1.19,1.25,1.32,1.39],[1.20,1.27,1.33,1.40],[1.21,1.28,1.35,1.41],[1.22,1.29,1.36,1.43],[1.24,1.31,1.37,1.44],[1.25,1.32,1.38,1.45],[1.27,1.34,1.41,1.48],[1.29,1.36,1.43,1.51],[1.30,1.38,1.45,1.53],[1.32,1.40,1.47,1.54],[1.35,1.42,1.49,1.56],[1.37,1.44,1.51,1.58],[1.40,1.47,1.53,1.60]]
band_e_pct = [66,72,58,80,60,68,74,50,62,86,64,44,70,56,30,62,72,26,58,66,40,52,20,64,36,58,24,46,68,18,42,28,54,16,36,22,48,14,30,40,20,26,12,44,32,18,50,24,14,38,22,16,34,28,12,46,20,30,18,42,14,26,36,12,24,52,16,30,20,14,38,22,28,12,44,18,26,34,14,20,48,16,30,24,12,36,22,18,42,14,28,20,32,12,50,16,24,38,14,22,30,18,44,12,26,20,34,16,56,14,24,28,18,40,12,22,46,16,30,20,14,36,26,18,52,12,24,32,16,42,20,14,28,38,18,22,12,48,26,16,34,20,14,44,24,18,30,12,40,22,16,54,14,28,20,36,12,26,18,46,16,24,32,14,20,42,12,30,18,24]

# ---- ticks and labels
bprp_ticks = [0, 1, 2, 3, 4, 5]
g_ticks = [8, 10, 12, 14, 16, 18, 20]
cbar_ticks = [0.0, 0.2, 0.4, 0.6, 0.8]
x_label = "BP-RP (mag)"
y_label = "G (mag)"
cbar_label = "Membership Probability"

# ---- assemble
def from_rows(gs, rows):
    xs, ys = [], []
    for g, row in zip(gs, rows):
        xs.extend(row)
        ys.extend([g] * len(row))
    return xs, ys

fx, fy = [], []
for group in (field_bright, field_upper, field_right, field_left):
    fx.extend(p[0] for p in group)
    fy.extend(p[1] for p in group)
for gs, rows in ((crowd_g_upper, crowd_bprp_upper), (crowd_g_core, crowd_bprp_core), (crowd_g_fill, crowd_bprp_fill)):
    a, b = from_rows(gs, rows)
    fx.extend(a)
    fy.extend(b)

mx, my, mp = [], [], []
for gs, rows, pct in ((band_d_g, band_d_bprp, band_d_pct), (band_c_g, band_c_bprp, band_c_pct),
                      (band_b_g, band_b_bprp, band_b_pct), (band_a_g, band_a_bprp, band_a_pct),
                      (band_e_g, band_e_bprp, band_e_pct)):
    a, b = from_rows(gs, rows)
    mx.extend(a)
    my.extend(b)
    mp.extend(np.resize(pct, len(a)).tolist())
for group in (member_faint, member_strays, member_bright, member_clump):
    mx.extend(p[0] for p in group)
    my.extend(p[1] for p in group)
    mp.extend(p[2] for p in group)
mp = np.array(mp) / 100.0

W, H, DPI = 2744, 1717, 156
fig = plt.figure(figsize=(W / DPI, H / DPI), dpi=DPI)
def box(l, r, t, b):
    return [l / W, 1 - b / H, (r - l) / W, (b - t) / H]
ax1 = fig.add_axes(box(139, 1354, 29, 1593))
ax2 = fig.add_axes(box(1508, 2480, 29, 1593))
cax = fig.add_axes(box(2542, 2620, 29, 1593))

SIZE = 31
norm = Normalize(vmin=0.0, vmax=0.993)
ax1.scatter(fx, fy, s=SIZE, c="gray", linewidths=0)
ax1.scatter(mx, my, s=SIZE, c="blue", linewidths=0)
ax2.scatter(fx, fy, s=SIZE, c="gray", linewidths=0)
ax2.scatter(mx, my, s=SIZE, c=mp, cmap="viridis", norm=norm, linewidths=0)

for ax in (ax1, ax2):
    ax.set_xlim(0, 5.5)
    ax.set_ylim(21, 8)
    ax.set_xticks(bprp_ticks)
    ax.set_yticks(g_ticks)
    ax.tick_params(labelsize=16)
    ax.set_xlabel(x_label, fontsize=22.4, labelpad=5)
    ax.set_ylabel(y_label, fontsize=22.4, labelpad=7)

cb = fig.colorbar(ScalarMappable(norm=norm, cmap="viridis"), cax=cax)
cb.set_ticks(cbar_ticks)
cb.ax.tick_params(labelsize=10)
cb.set_label(cbar_label, fontsize=18, labelpad=6)

fig.savefig("out.png", dpi=DPI)
